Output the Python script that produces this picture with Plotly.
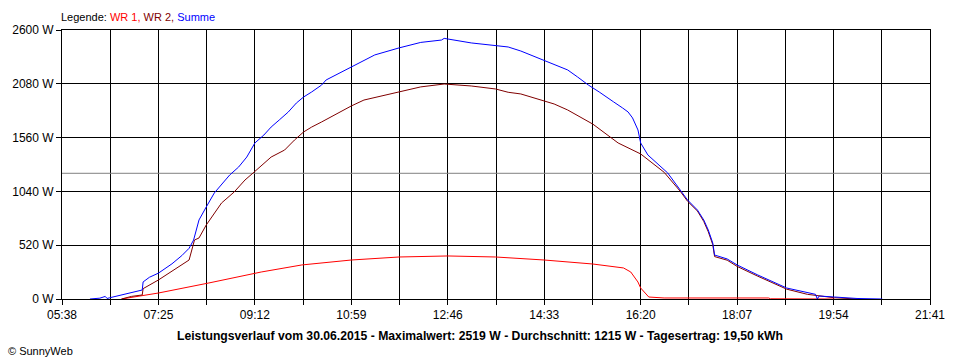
import plotly.graph_objects as go

# ---- data ----
summe_time = ["06:09", "06:20", "06:26", "06:28", "06:31", "06:44", "06:55", "07:07", "07:08", "07:15",
              "07:25", "07:40", "07:51", "07:59", "08:04", "08:10", "08:18", "08:27", "08:44", "08:54",
              "09:03", "09:12", "09:22", "09:30", "09:39", "09:49", "09:58", "10:06", "10:15", "10:26",
              "10:31", "10:59", "11:25", "11:52", "12:16", "12:39", "12:42", "13:12", "13:39", "13:53",
              "14:07", "14:18", "14:33", "14:44", "14:59", "15:10", "15:22", "15:34", "15:43", "15:50",
              "16:00", "16:06", "16:11", "16:17", "16:20", "16:28", "16:50", "17:04", "17:12", "17:23",
              "17:30", "17:35", "17:40", "17:42", "17:56", "18:07", "18:30", "19:02", "19:25", "19:34",
              "19:36", "19:38", "19:55", "20:20", "20:48"]
summe_w = [0, 8, 25, 5, 12, 40, 60, 87, 165, 210,
           250, 340, 420, 490, 570, 764, 889, 1025, 1198, 1276,
           1372, 1508, 1585, 1662, 1730, 1807, 1894, 1952, 2001, 2068,
           2117, 2242, 2359, 2427, 2480, 2503, 2519, 2475, 2446, 2436,
           2397, 2358, 2301, 2262, 2214, 2146, 2068, 2001, 1943, 1905,
           1846, 1808, 1750, 1634, 1508, 1392, 1218, 1054, 957, 860,
           764, 667, 541, 425, 387, 329, 232, 106, 58, 45,
           0, 29, 19, 5, 0]

wr2_time = ["06:44", "06:55", "07:07", "07:08", "07:25", "07:45", "07:59", "08:05", "08:10", "08:18",
            "08:35", "08:49", "09:01", "09:10", "09:30", "09:45", "09:56", "10:06", "10:15", "10:26",
            "10:59", "11:13", "11:54", "12:16", "12:42", "13:12", "13:39", "13:53", "14:07", "14:18",
            "14:33", "14:44", "14:59", "15:27", "15:55", "16:20", "16:46", "17:04", "17:12", "17:23",
            "17:30", "17:35", "17:40", "17:42", "17:56", "18:07", "18:30", "19:02", "19:25", "19:55",
            "20:20"]
wr2_w = [0, 25, 39, 100, 184, 300, 377, 570, 590, 715,
         928, 1034, 1150, 1218, 1372, 1440, 1537, 1614, 1662, 1711,
         1866, 1923, 2001, 2050, 2078, 2059, 2030, 1998, 1982, 1953,
         1914, 1885, 1827, 1690, 1508, 1402, 1225, 1040, 945, 850,
         750, 650, 525, 410, 375, 315, 220, 95, 45, 12,
         0]

wr1_time = ["06:44", "07:25", "08:21", "09:19", "10:04", "10:59", "11:52", "12:46", "13:39", "14:33",
            "15:27", "16:01", "16:09", "16:17", "16:20", "16:29", "16:46", "18:42", "18:44", "19:55"]
wr1_w = [0, 58, 155, 261, 329, 377, 406, 416, 406, 377,
         338, 300, 261, 164, 106, 19, 10, 10, 2, 0]

average_w = 1215
x_labels = ["05:38", "07:25", "09:12", "10:59", "12:46", "14:33", "16:20", "18:07", "19:54", "21:41"]
y_ticks = [0, 520, 1040, 1560, 2080, 2600]
y_labels = ["0 W", "520 W", "1040 W", "1560 W", "2080 W", "2600 W"]
title = ("Leistungsverlauf vom 30.06.2015 - Maximalwert: 2519 W - Durchschnitt: 1215 W - "
         "Tagesertrag: 19,50 kWh")


def to_min(s):
    h, m = s.split(":")
    return int(h) * 60 + int(m)


major = [to_min(s) for s in x_labels]
tickvals, ticktext = [], []
for i, v in enumerate(major):
    tickvals.append(v)
    ticktext.append(x_labels[i])
    if i < len(major) - 1:
        tickvals.append((v + major[i + 1]) / 2)
        ticktext.append("")

fig = go.Figure()
fig.add_trace(go.Scatter(x=[major[0], major[-1]], y=[average_w, average_w], mode="lines",
                         line=dict(color="#808080", width=1), hoverinfo="skip"))
fig.add_trace(go.Scatter(x=[to_min(t) for t in wr1_time], y=wr1_w, mode="lines",
                         line=dict(color="#FF0000", width=1), name="WR 1"))
fig.add_trace(go.Scatter(x=[to_min(t) for t in wr2_time], y=wr2_w, mode="lines",
                         line=dict(color="#800000", width=1), name="WR 2"))
fig.add_trace(go.Scatter(x=[to_min(t) for t in summe_time], y=summe_w, mode="lines",
                         line=dict(color="#0000FF", width=1), name="Summe"))

fig.update_layout(
    width=960, height=360,
    margin=dict(l=60, r=30, t=30, b=61),
    paper_bgcolor="white", plot_bgcolor="white",
    showlegend=False,
    font=dict(family="Liberation Sans, Arial, sans-serif", size=11, color="black"),
    xaxis=dict(range=[major[0], major[-1]], tickvals=tickvals, ticktext=ticktext,
               showgrid=True, gridcolor="black", gridwidth=1, zeroline=False,
               showline=True, linecolor="black", linewidth=1, mirror=True,
               ticks="outside", ticklen=5, tickcolor="black", tickfont=dict(size=12)),
    yaxis=dict(range=[0, 2600], tickvals=y_ticks, ticktext=y_labels,
               showgrid=True, gridcolor="black", gridwidth=1, zeroline=False,
               showline=True, linecolor="black", linewidth=1, mirror=True,
               ticks="outside", ticklen=5, tickcolor="black", tickfont=dict(size=12)),
    annotations=[
        dict(xref="paper", yref="paper", x=0, y=1, xanchor="left", yanchor="bottom",
             yshift=5, xshift=-3,
             showarrow=False, font=dict(size=11),
             text="Legende: <span style='color:#FF0000'>WR 1,</span> "
                  "<span style='color:#800000'>WR 2,</span> "
                  "<span style='color:#0000FF'>Summe</span>"),
        dict(xref="paper", yref="paper", x=0.482, y=-0.103, xanchor="center", yanchor="top",
             showarrow=False, font=dict(size=12.2), text="<b>" + title + "</b>"),
        dict(xref="paper", yref="paper", x=-56 / 870, y=-0.162, xanchor="left", yanchor="top",
             showarrow=False, font=dict(size=11), text="© SunnyWeb"),
    ],
)

fig.write_html("out.html", post_script="document.body.style.margin='0';",
               config={"displayModeBar": False})
